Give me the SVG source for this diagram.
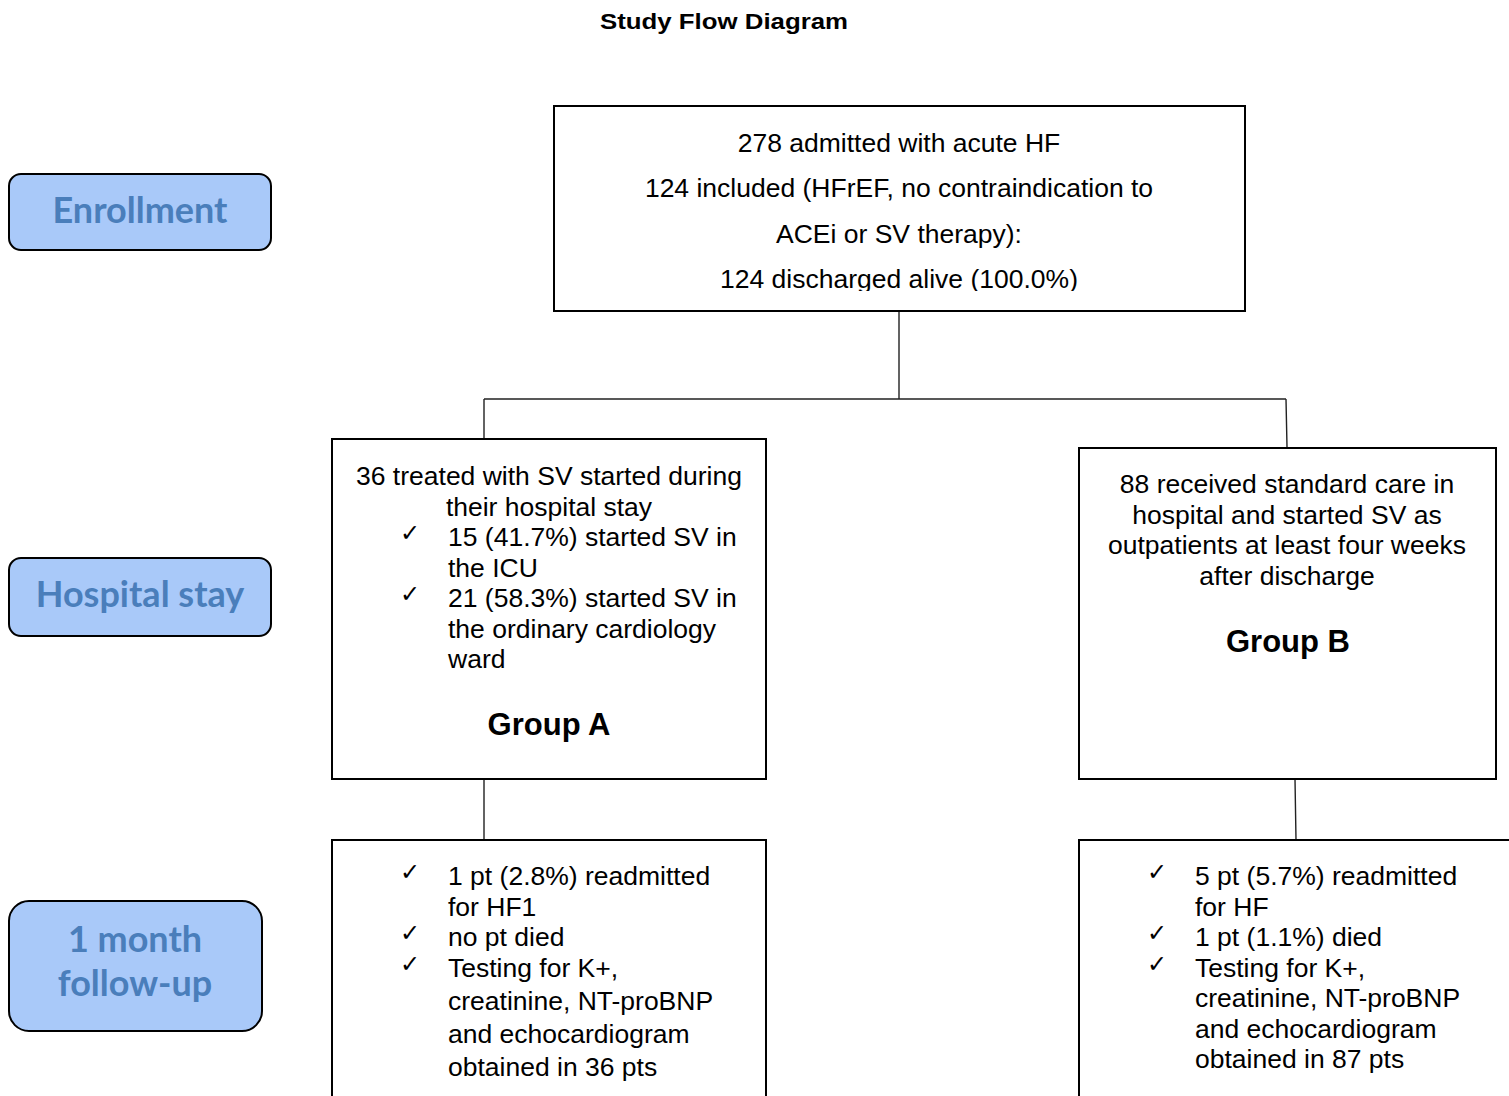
<svg xmlns="http://www.w3.org/2000/svg" width="1509" height="1096" viewBox="0 0 1509 1096">
<style>
.box{fill:#fff;stroke:#000;stroke-width:2}
.pill{fill:#A9C9F9;stroke:#000;stroke-width:2}
.pt{font-family:Lato,"Open Sans","Liberation Sans",sans-serif;font-weight:bold;font-size:36px;fill:#4A7EBB;text-anchor:middle}
.t{font-family:"Liberation Sans",Arial,sans-serif;font-size:26.5px;fill:#000}
.c{text-anchor:middle}
.g{font-family:"Liberation Sans",Arial,sans-serif;font-size:31px;font-weight:bold;fill:#000;text-anchor:middle}
.ck{font-family:"DejaVu Sans",sans-serif;font-size:24px;font-weight:bold;fill:#000}
.conn{stroke:#222;stroke-width:1.4;fill:none}
</style>
<defs>
<clipPath id="topclip"><rect x="554" y="106" width="691" height="185"/></clipPath>
</defs>
<rect width="1509" height="1096" fill="#fff"/>
<text x="724" y="29" font-family="'Liberation Sans',Arial,sans-serif" font-weight="bold" font-size="22" text-anchor="middle" textLength="248" lengthAdjust="spacingAndGlyphs">Study Flow Diagram</text>

<g id="connectors">
<path class="conn" d="M899 311 V399 M484 399 H1286 M484 399 V439 M1286 399 L1287 447 M484 779 V840 M1295 779 L1296 840"/>
</g>

<g id="enrollment">
<rect class="pill" x="9" y="174" width="262" height="76" rx="12"/>
<text class="pt" x="140" y="223">Enrollment</text>
</g>
<g id="hospital-stay">
<rect class="pill" x="9" y="558" width="262" height="78" rx="12"/>
<text class="pt" x="140" y="607">Hospital stay</text>
</g>
<g id="followup">
<rect class="pill" x="9" y="901" width="253" height="130" rx="20"/>
<text class="pt" x="135" y="952">1 month</text>
<text class="pt" x="135" y="996">follow-up</text>
</g>

<g id="top">
<rect class="box" x="554" y="106" width="691" height="205"/>
<g clip-path="url(#topclip)">
<text class="t c" x="899" y="152">278 admitted with acute HF</text>
<text class="t c" x="899" y="197">124 included (HFrEF, no contraindication to</text>
<text class="t c" x="899" y="243">ACEi or SV therapy):</text>
<text class="t c" x="899" y="288">124 discharged alive (100.0%)</text>
</g>
</g>

<g id="groupA">
<rect class="box" x="332" y="439" width="434" height="340"/>
<text class="t c" x="549" y="485">36 treated with SV started during</text>
<text class="t c" x="549" y="516">their hospital stay</text>
<text class="ck" x="400" y="541">✓</text>
<text class="t" x="448" y="546">15 (41.7%) started SV in</text>
<text class="t" x="448" y="577">the ICU</text>
<text class="ck" x="400" y="602">✓</text>
<text class="t" x="448" y="607">21 (58.3%) started SV in</text>
<text class="t" x="448" y="638">the ordinary cardiology</text>
<text class="t" x="448" y="668">ward</text>
<text class="g" x="549" y="735">Group A</text>
</g>

<g id="groupB">
<rect class="box" x="1079" y="448" width="417" height="331"/>
<text class="t c" x="1287" y="493">88 received standard care in</text>
<text class="t c" x="1287" y="524">hospital and started SV as</text>
<text class="t c" x="1287" y="554">outpatients at least four weeks</text>
<text class="t c" x="1287" y="585">after discharge</text>
<text class="g" x="1288" y="652">Group B</text>
</g>

<g id="followA">
<rect class="box" x="332" y="840" width="434" height="270"/>
<text class="ck" x="400" y="880">✓</text>
<text class="t" x="448" y="885">1 pt (2.8%) readmitted</text>
<text class="t" x="448" y="916">for HF1</text>
<text class="ck" x="400" y="941">✓</text>
<text class="t" x="448" y="946">no pt died</text>
<text class="ck" x="400" y="972">✓</text>
<text class="t" x="448" y="977">Testing for K+,</text>
<text class="t" x="448" y="1010">creatinine, NT-proBNP</text>
<text class="t" x="448" y="1043">and echocardiogram</text>
<text class="t" x="448" y="1076">obtained in 36 pts</text>
</g>

<g id="followB">
<rect class="box" x="1079" y="840" width="450" height="270"/>
<text class="ck" x="1147" y="880">✓</text>
<text class="t" x="1195" y="885">5 pt (5.7%) readmitted</text>
<text class="t" x="1195" y="916">for HF</text>
<text class="ck" x="1147" y="941">✓</text>
<text class="t" x="1195" y="946">1 pt (1.1%) died</text>
<text class="ck" x="1147" y="972">✓</text>
<text class="t" x="1195" y="977">Testing for K+,</text>
<text class="t" x="1195" y="1007">creatinine, NT-proBNP</text>
<text class="t" x="1195" y="1038">and echocardiogram</text>
<text class="t" x="1195" y="1068">obtained in 87 pts</text>
</g>
</svg>
